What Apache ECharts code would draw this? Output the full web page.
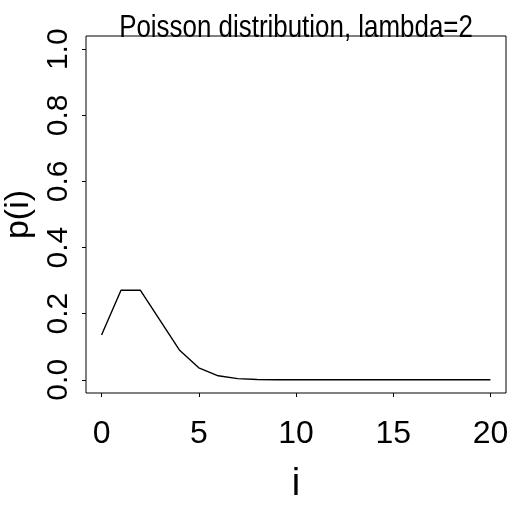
<!DOCTYPE html>
<html>
<head>
<meta charset="utf-8">
<script src="https://cdn.jsdelivr.net/npm/echarts@6/dist/echarts.min.js"></script>
<style>html,body{margin:0;padding:0;background:#fff}#c{width:509px;height:508px}</style>
</head>
<body>
<div id="c"></div>
<script>
const iValues = [0,1,2,3,4,5,6,7,8,9,10,11,12,13,14,15,16,17,18,19,20];
const pValues = [0.1353,0.2707,0.2707,0.1804,0.0902,0.0361,0.0120,0.0034,0.0009,0.0002,0.0000,0.0000,0.0000,0.0000,0.0000,0.0000,0.0000,0.0000,0.0000,0.0000,0.0000];
const xTicks = [0,5,10,15,20];
const yTicks = [0.0,0.2,0.4,0.6,0.8,1.0];
const titleText = 'Poisson distribution, lambda=2';
const xName = 'i';
const yName = 'p(i)';

const normal = '"Liberation Sans",Arial,sans-serif';

const chart = echarts.init(document.getElementById('c'), null, {renderer:'canvas'});
chart.setOption({
  animation:false,
  backgroundColor:'#fff',
  graphic:[{
    type:'text', x:296, y:44, originX:0, originY:0, scaleX:0.81, scaleY:1,
    style:{text:titleText, x:0, y:0, fontFamily:normal, fontSize:32, fill:'#000',
      align:'center', verticalAlign:'bottom', textAlign:'center', textVerticalAlign:'bottom'},
    silent:true
  }],
  grid:{left:86, top:36, right:3, bottom:115, show:true, borderColor:'#000', borderWidth:1,
    backgroundColor:'transparent', outerBoundsMode:'none', containLabel:false},
  xAxis:{
    type:'value', min:-0.8, max:20.8,
    name:xName, nameLocation:'middle', nameGap:73,
    nameTextStyle:{fontFamily:normal, fontSize:38, color:'#000'},
    axisLine:{show:false, onZero:false},
    axisTick:{show:true, length:4, lineStyle:{color:'#000', width:1}, customValues:xTicks},
    axisLabel:{margin:25, fontFamily:normal, fontSize:32, color:'#000', customValues:xTicks,
      formatter:v=>String(v)},
    splitLine:{show:false}
  },
  yAxis:{
    type:'value', min:-0.04, max:1.04,
    name:yName, nameLocation:'middle', nameGap:46, nameRotate:90,
    nameTextStyle:{fontFamily:normal, fontSize:34, color:'#000'},
    axisLine:{show:false, onZero:false},
    axisTick:{show:true, length:4, lineStyle:{color:'#000', width:1}, customValues:yTicks},
    axisLabel:{margin:12, rotate:90, fontFamily:normal, fontSize:30, color:'#000', customValues:yTicks,
      formatter:v=>v.toFixed(1)},
    splitLine:{show:false}
  },
  series:[{
    type:'line', data:iValues.map((x,k)=>[x,pValues[k]]),
    showSymbol:false, symbol:'none',
    lineStyle:{color:'#000', width:1.4}
  }]
});
</script>
</body>
</html>
